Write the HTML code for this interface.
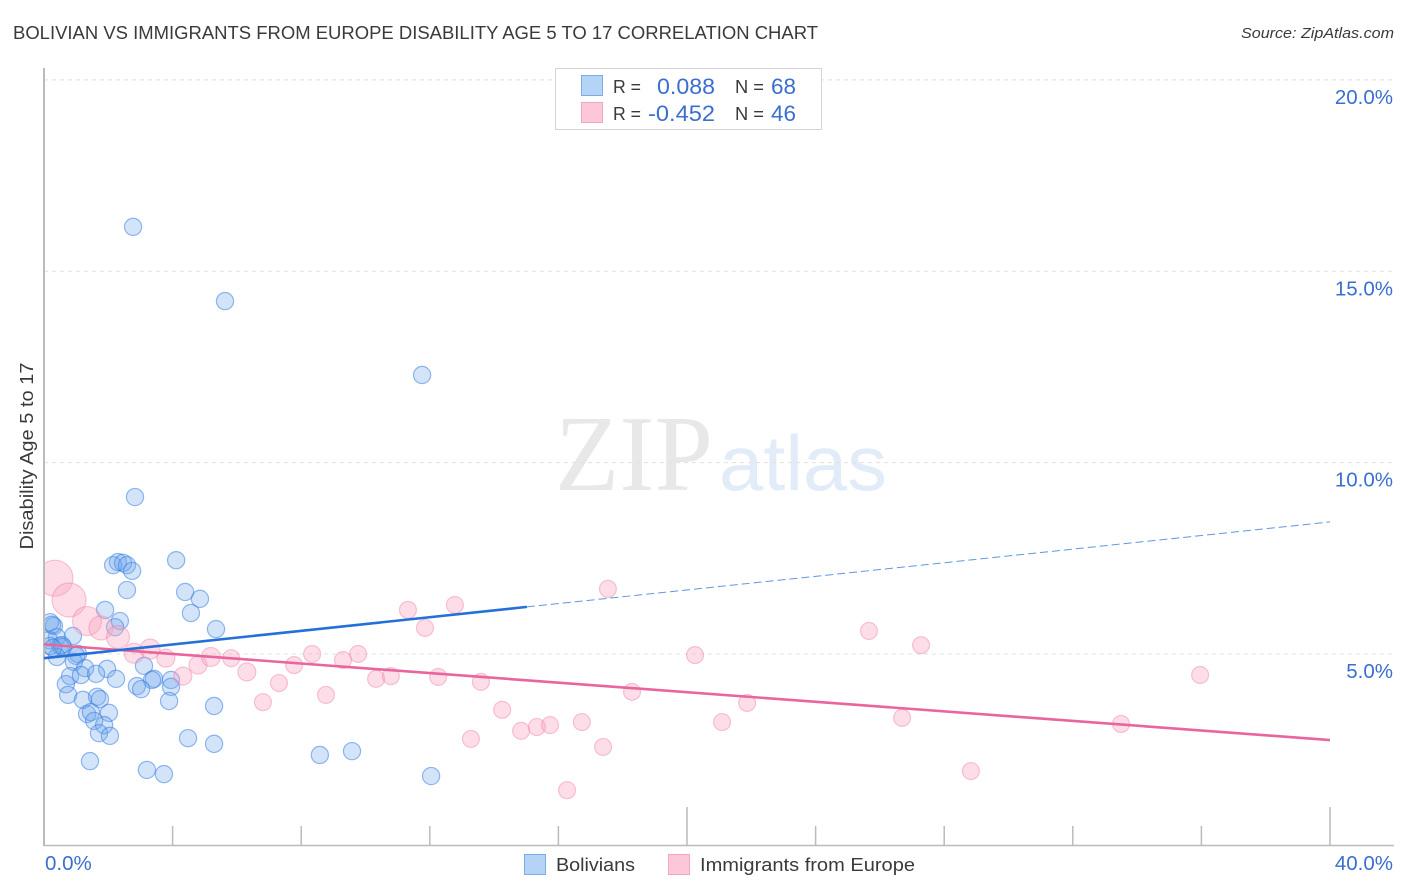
<!DOCTYPE html>
<html lang="en">
<head>
<meta charset="utf-8">
<title>Bolivian vs Immigrants from Europe Disability Age 5 to 17 Correlation Chart</title>
<style>
html,body{margin:0;padding:0;background:#fff;}
svg{display:block;font-family:"Liberation Sans",sans-serif;}
</style>
</head>
<body>
<svg id="chart" xmlns="http://www.w3.org/2000/svg" width="1406" height="892" viewBox="0 0 1406 892">
  <defs>
    <clipPath id="plot-clip"><rect x="45" y="60" width="1349" height="785"/></clipPath>
  </defs>
  <rect x="0" y="0" width="1406" height="892" fill="#ffffff"/>
  <text x="13" y="39" font-size="18" fill="#3a3a3e" textLength="805" lengthAdjust="spacingAndGlyphs">BOLIVIAN VS IMMIGRANTS FROM EUROPE DISABILITY AGE 5 TO 17 CORRELATION CHART</text>
  <text x="1241" y="38" font-size="15" font-style="italic" fill="#3a3a3e" textLength="153" lengthAdjust="spacingAndGlyphs">Source: ZipAtlas.com</text>
  <g>
    <text x="555" y="490" font-family="'Liberation Serif',serif" font-size="108" fill="#e8e8e8" textLength="158" lengthAdjust="spacingAndGlyphs">ZIP</text>
    <text x="719" y="490" font-size="78" fill="#e2ecf8" textLength="168" lengthAdjust="spacingAndGlyphs">atlas</text>
  </g>
  <g id="grid"></g>
  <g id="axes"></g>
  <g id="points" clip-path="url(#plot-clip)"></g>
  <g id="trends"></g>
  <g id="tick-labels"></g>
  <text transform="translate(33,456) rotate(-90)" text-anchor="middle" font-size="18" fill="#3a3a3e" textLength="187" lengthAdjust="spacingAndGlyphs">Disability Age 5 to 17</text>

  <g>
    <rect x="555.5" y="68.5" width="266" height="61" fill="#fff" stroke="#d4d4d4" stroke-width="1"/>
    <rect x="581.5" y="75.5" width="21" height="20" fill="#b5d2f7" stroke="#7fabe6"/>
    <rect x="581.5" y="102.5" width="21" height="20" fill="#fcc8d9" stroke="#f3a6c0"/>
    <text x="613" y="93" font-size="18" fill="#3a3a3e" textLength="28" lengthAdjust="spacingAndGlyphs">R =</text>
    <text x="657" y="94" font-size="22" fill="#3a6fd0" textLength="58" lengthAdjust="spacingAndGlyphs">0.088</text>
    <text x="735" y="93" font-size="18" fill="#3a3a3e" textLength="29" lengthAdjust="spacingAndGlyphs">N =</text>
    <text x="771" y="94" font-size="22" fill="#3a6fd0" textLength="25" lengthAdjust="spacingAndGlyphs">68</text>
    <text x="613" y="120" font-size="18" fill="#3a3a3e" textLength="28" lengthAdjust="spacingAndGlyphs">R =</text>
    <text x="648" y="121" font-size="22" fill="#3a6fd0" textLength="67" lengthAdjust="spacingAndGlyphs">-0.452</text>
    <text x="735" y="120" font-size="18" fill="#3a3a3e" textLength="29" lengthAdjust="spacingAndGlyphs">N =</text>
    <text x="771" y="121" font-size="22" fill="#3a6fd0" textLength="25" lengthAdjust="spacingAndGlyphs">46</text>
  </g>

  <g>
    <rect x="524.5" y="854.5" width="21" height="20" fill="#b5d2f7" stroke="#7fabe6"/>
    <text x="556" y="871" font-size="18.5" fill="#3a3a3e" textLength="79" lengthAdjust="spacingAndGlyphs">Bolivians</text>
    <rect x="668.5" y="854.5" width="21" height="20" fill="#fcc8d9" stroke="#f3a6c0"/>
    <text x="700" y="871" font-size="18.5" fill="#3a3a3e" textLength="215" lengthAdjust="spacingAndGlyphs">Immigrants from Europe</text>
  </g>
</svg>

<script>
const yTicks = [5, 10, 15, 20];
const yTickLabels = ["5.0%", "10.0%", "15.0%", "20.0%"];
const xTicks = [4, 8, 12, 16, 20, 24, 28, 32, 36, 40];
const xMajorTicks = [20, 40];
const xEndLabels = ["0.0%", "40.0%"];

const boliviansX = [2.77,5.63,11.76,2.83,4.11,2.30,2.15,2.46,2.58,2.74,2.58,4.39,4.85,4.57,1.90,2.36,2.21,5.35,0.31,0.19,0.90,0.40,0.25,0.16,0.50,0.59,0.19,0.56,1.06,1.00,0.40,0.93,1.28,3.11,1.96,0.81,1.15,1.62,2.24,0.68,3.42,3.36,3.95,2.89,3.02,3.95,0.75,3.89,1.21,1.65,1.74,5.29,2.02,1.34,1.46,1.56,1.87,1.71,2.05,4.48,5.29,8.58,9.58,1.43,3.20,3.73,12.04,0.28];
const boliviansY = [16.16,14.22,12.29,9.10,7.45,7.40,7.32,7.38,7.32,7.17,6.67,6.62,6.44,6.07,6.15,5.86,5.70,5.65,5.73,5.83,5.47,5.44,5.76,5.36,5.21,5.18,5.21,5.23,5.00,4.95,4.92,4.79,4.63,4.69,4.61,4.42,4.45,4.48,4.35,4.21,4.35,4.32,4.32,4.16,4.08,4.14,3.93,3.77,3.80,3.88,3.82,3.64,3.46,3.43,3.48,3.25,3.14,2.93,2.86,2.80,2.65,2.36,2.46,2.20,1.97,1.86,1.81,5.16];

const immigrantsX = [0.34,0.78,1.34,1.77,2.30,2.80,3.30,3.79,4.32,4.79,5.19,5.82,6.31,6.81,7.31,7.78,8.34,8.77,9.30,9.77,10.33,10.79,11.32,11.85,12.26,12.78,13.59,13.28,14.25,14.84,15.33,15.74,16.73,16.27,17.39,17.54,18.29,20.25,21.09,21.87,25.66,26.69,27.28,28.83,33.50,35.96];
const immigrantsY = [6.98,6.41,5.86,5.68,5.44,5.02,5.13,4.89,4.42,4.71,4.92,4.89,4.53,3.74,4.24,4.71,5.00,3.93,4.84,5.00,4.35,4.42,6.15,5.68,4.40,6.28,4.27,2.78,3.54,2.99,3.09,3.14,3.22,1.44,2.57,6.70,4.01,4.97,3.22,3.72,5.60,3.33,5.23,1.94,3.17,4.45];
const immigrantsWeight = [324,289,210,144,132,100,100,81,81,81,90,72,81,72,72,72,72,72,72,72,72,72,72,72,72,72,72,72,72,72,72,72,72,72,72,72,72,72,72,72,72,72,72,72,72,72];

const boliviansTrendX = [0, 15.02];
const boliviansTrendY = [4.89, 6.23];
const boliviansForecastX = [15.02, 40];
const boliviansForecastY = [6.23, 8.45];
const immigrantsTrendX = [0, 40];
const immigrantsTrendY = [5.25, 2.75];

const SVG_NS = "http://www.w3.org/2000/svg";
function xScale(v) { return 44 + v * 32.15; }
function yScale(v) { return 845.3 - v * 38.27; }
function rScale(w) { return Math.sqrt(w); }

const gridLayer = document.getElementById("grid");
const axesLayer = document.getElementById("axes");
const pointLayer = document.getElementById("points");
const trendLayer = document.getElementById("trends");
const labelLayer = document.getElementById("tick-labels");

function makeLine(x1, y1, x2, y2, stroke, width, dash) {
  const el = document.createElementNS(SVG_NS, "line");
  el.setAttribute("x1", x1);
  el.setAttribute("y1", y1);
  el.setAttribute("x2", x2);
  el.setAttribute("y2", y2);
  el.setAttribute("stroke", stroke);
  el.setAttribute("stroke-width", width);
  if (dash) el.setAttribute("stroke-dasharray", dash);
  return el;
}

yTicks.forEach(function (t, i) {
  const grid = makeLine(44, yScale(t), 1394, yScale(t), "#e0e0e0", 1, "4 4");
  
  
  gridLayer.appendChild(grid);

  const label = document.createElementNS(SVG_NS, "text");
  label.setAttribute("x", 1393);
  label.setAttribute("y", yScale(t) + 24);
  label.setAttribute("text-anchor", "end");
  label.setAttribute("font-size", "20.5");
  label.setAttribute("fill", "#3a6fd0");
  label.textContent = yTickLabels[i];
  
  
  labelLayer.appendChild(label);
});

const yAxis = makeLine(44, 68, 44, 846, "#bbbbbb", 2);


axesLayer.appendChild(yAxis);

const xAxis = makeLine(43, 845.5, 1394, 845.5, "#bbbbbb", 1.6);


axesLayer.appendChild(xAxis);

xTicks.forEach(function (t) {
  const top = xMajorTicks.indexOf(t) >= 0 ? 807 : 826;
  const tick = makeLine(xScale(t), top, xScale(t), 845, "#bbbbbb", 1.5);
  
  
  axesLayer.appendChild(tick);
});

const xStartLabel = document.createElementNS(SVG_NS, "text");
xStartLabel.setAttribute("x", 45);
xStartLabel.setAttribute("y", 870);
xStartLabel.setAttribute("font-size", "20.5");
xStartLabel.setAttribute("fill", "#3a6fd0");
xStartLabel.textContent = xEndLabels[0];


labelLayer.appendChild(xStartLabel);

const xEndLabel = document.createElementNS(SVG_NS, "text");
xEndLabel.setAttribute("x", 1393);
xEndLabel.setAttribute("y", 870);
xEndLabel.setAttribute("text-anchor", "end");
xEndLabel.setAttribute("font-size", "20.5");
xEndLabel.setAttribute("fill", "#3a6fd0");
xEndLabel.textContent = xEndLabels[1];


labelLayer.appendChild(xEndLabel);

boliviansX.forEach(function (v, i) {
  const dot = document.createElementNS(SVG_NS, "circle");
  dot.setAttribute("cx", xScale(v));
  dot.setAttribute("cy", yScale(boliviansY[i]));
  dot.setAttribute("r", 8.6);
  dot.setAttribute("fill", "rgba(110,165,235,0.3)");
  dot.setAttribute("stroke", "rgba(60,130,225,0.55)");
  dot.setAttribute("stroke-width", "1.2");
  
  
  pointLayer.appendChild(dot);
});

immigrantsX.forEach(function (v, i) {
  const dot = document.createElementNS(SVG_NS, "circle");
  dot.setAttribute("cx", xScale(v));
  dot.setAttribute("cy", yScale(immigrantsY[i]));
  dot.setAttribute("r", rScale(immigrantsWeight[i]));
  dot.setAttribute("fill", "rgba(250,160,190,0.36)");
  dot.setAttribute("stroke", "rgba(238,130,170,0.45)");
  dot.setAttribute("stroke-width", "1.2");
  
  
  pointLayer.appendChild(dot);
});

const immigrantsTrend = makeLine(xScale(immigrantsTrendX[0]), yScale(immigrantsTrendY[0]), xScale(immigrantsTrendX[1]), yScale(immigrantsTrendY[1]), "#e9659b", 2.6);


trendLayer.appendChild(immigrantsTrend);

const boliviansTrend = makeLine(xScale(boliviansTrendX[0]), yScale(boliviansTrendY[0]), xScale(boliviansTrendX[1]), yScale(boliviansTrendY[1]), "#2470d8", 2.6);


trendLayer.appendChild(boliviansTrend);

const boliviansForecast = makeLine(xScale(boliviansForecastX[0]), yScale(boliviansForecastY[0]), xScale(boliviansForecastX[1]), yScale(boliviansForecastY[1]), "#5f97e0", 1, "8 4");


trendLayer.appendChild(boliviansForecast);
</script>
</body>
</html>
